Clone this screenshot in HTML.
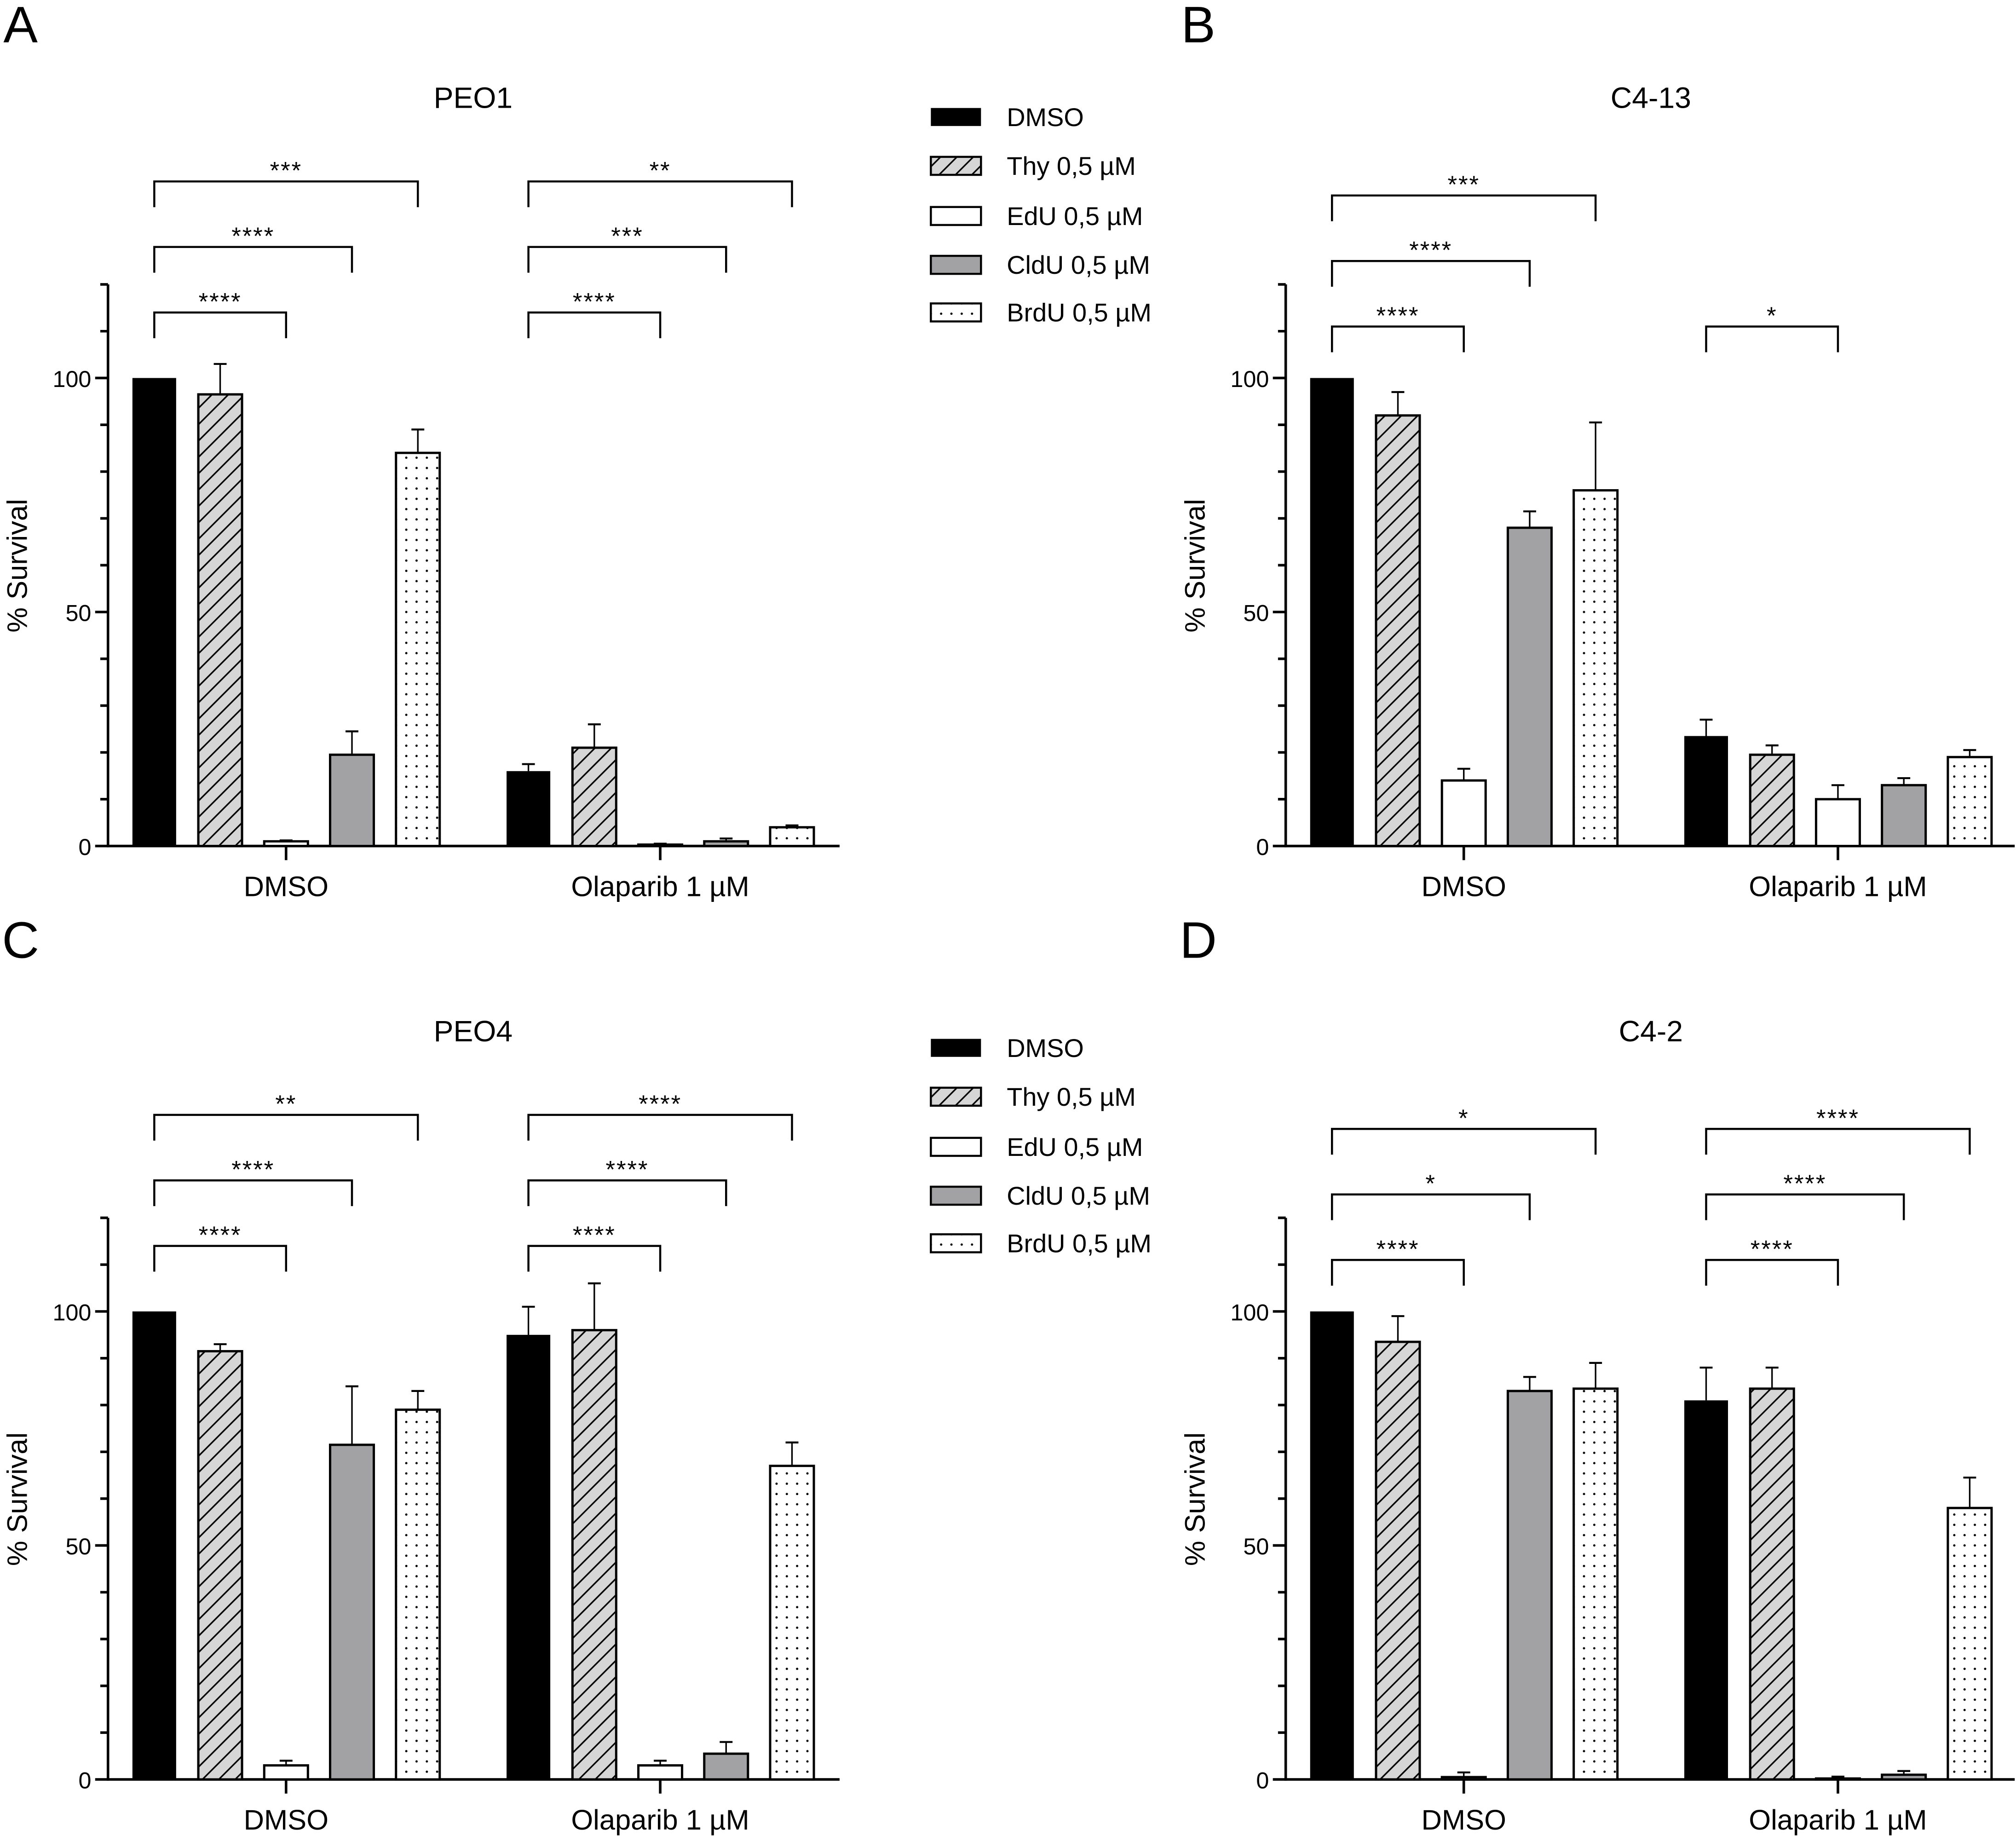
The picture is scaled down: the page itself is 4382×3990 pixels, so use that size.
<!DOCTYPE html>
<html><head><meta charset="utf-8"><style>
html,body{margin:0;padding:0;background:#fff}
svg{display:block}
text{font-family:"Liberation Sans",Arial,sans-serif;fill:#000}
</style></head><body>
<svg id="fig" width="4382" height="3990" viewBox="0 0 1568 1428" preserveAspectRatio="none" xmlns="http://www.w3.org/2000/svg">
<defs>
<pattern id="hatch" patternUnits="userSpaceOnUse" width="9" height="9" patternTransform="rotate(45)">
<rect width="9" height="9" fill="#d6d6d6"/><line x1="0" y1="0" x2="0" y2="9" stroke="#000" stroke-width="2.4"/></pattern>
<pattern id="dots" patternUnits="userSpaceOnUse" width="8" height="8">
<rect width="8" height="8" fill="#fff"/><circle cx="4" cy="4" r="0.9" fill="#000"/></pattern>
</defs>
<g id="root"></g>
</svg>
<script>
const categories = ["DMSO", "Olaparib 1 µM"];
const seriesNames = ["DMSO", "Thy 0,5 µM", "EdU 0,5 µM", "CldU 0,5 µM", "BrdU 0,5 µM"];
const yTicks = [0, 50, 100];
const panelTitles = ["PEO1", "C4-13", "PEO4", "C4-2"];
const panelLetters = ["A", "B", "C", "D"];
// values[group][series]
const valuesA = [[100, 96.5, 1, 19.5, 84], [16, 21, 0.3, 1, 4]];
const errorsA = [[0, 6.5, 0.2, 5, 5], [1.5, 5, 0.2, 0.6, 0.4]];
const valuesB = [[100, 92, 14, 68, 76], [23.5, 19.5, 10, 13, 19]];
const errorsB = [[0, 5, 2.5, 3.5, 14.5], [3.5, 2, 3, 1.5, 1.5]];
const valuesC = [[100, 91.5, 3, 71.5, 79], [95, 96, 3, 5.5, 67]];
const errorsC = [[0, 1.5, 1, 12.5, 4], [6, 10, 1, 2.5, 5]];
const valuesD = [[100, 93.5, 0.5, 83, 83.5], [81, 83.5, 0.2, 1, 58]];
const errorsD = [[0, 5.5, 1, 3, 5.5], [7, 4.5, 0.4, 0.8, 6.5]];
// brackets: [group, toSeries, level(value), label]
const bracketsA = [[0,2,114,"****"],[0,3,128,"****"],[0,4,142,"***"],[1,2,114,"****"],[1,3,128,"***"],[1,4,142,"**"]];
const bracketsB = [[0,2,111,"****"],[0,3,125,"****"],[0,4,139,"***"],[1,2,111,"*"]];
const bracketsC = [[0,2,114,"****"],[0,3,128,"****"],[0,4,142,"**"],[1,2,114,"****"],[1,3,128,"****"],[1,4,142,"****"]];
const bracketsD = [[0,2,111,"****"],[0,3,125,"*"],[0,4,139,"*"],[1,2,111,"****"],[1,3,125,"****"],[1,4,139,"****"]];

const fills = ["#000", "url(#hatch)", "#fff", "#a2a2a5", "url(#dots)"];
const NS = "http://www.w3.org/2000/svg";
const root = document.getElementById("root");
function mk(tag, attrs, parent, txt){
  const e = document.createElementNS(NS, tag);
  for (const k in attrs) e.setAttribute(k, attrs[k]);
  if (txt !== undefined) e.textContent = txt;
  (parent||root).appendChild(e); return e;
}
function panel(idx, ox, oy, vals, errs, brs, axisEnd){
  const g = mk("g", {transform:`translate(${ox},${oy})`});
  
  
  const y = v => 658 - v * 3.64;
  const x0 = 84;
  const bx = (gi, si) => 103 + gi * 291 + si * 51.25;
  const t = mk("text", {x:16, y:(idx < 2 ? 33 : 19), "font-size":40, "text-anchor":"middle"}, g, panelLetters[idx]);
  
  
  const ti = mk("text", {x:368, y:84, "font-size":23, "text-anchor":"middle"}, g, panelTitles[idx]);
  
  
  const ya = mk("line", {x1:x0, y1:y(120), x2:x0, y2:y(0)+1, stroke:"#000", "stroke-width":2}, g);
  
  
  for (let v = 0; v <= 120; v += 10){
    const major = yTicks.includes(v);
    mk("line", {x1:x0-(major?10:6), y1:y(v), x2:x0, y2:y(v), stroke:"#000", "stroke-width":2}, g);
  }
  yTicks.forEach(v=>{
    const tl = mk("text", {x:x0-13, y:y(v)+7, "font-size":18, "text-anchor":"end"}, g, String(v));
    
    
  });
  const yl = mk("text", {x:0, y:0, "font-size":22, "text-anchor":"middle", transform:`translate(21,440) rotate(-90)`}, g, "% Survival");
  
  
  const xa = mk("line", {x1:x0-1, y1:y(0), x2:axisEnd, y2:y(0), stroke:"#000", "stroke-width":2}, g);
  
  
  categories.forEach((c, gi)=>{
    const cx = bx(gi, 2) + 17;
    mk("line", {x1:cx, y1:y(0), x2:cx, y2:y(0)+11, stroke:"#000", "stroke-width":2}, g);
    const cl = mk("text", {x:cx, y:697, "font-size":22, "text-anchor":"middle"}, g, c);
    
    
    vals[gi].forEach((v, si)=>{
      const xx = bx(gi, si);
      const cxx = xx + 17;
      const top = y(errs[gi][si] + v);
      if (errs[gi][si] > 0){
        mk("line", {x1:cxx, y1:top, x2:cxx, y2:y(v), stroke:"#000", "stroke-width":1.2}, g);
        mk("line", {x1:cxx-5, y1:top, x2:cxx+5, y2:top, stroke:"#000", "stroke-width":1.5}, g);
      }
      const r = mk("rect", {x:xx, y:y(v), width:34, height:Math.max(y(0)-y(v),0.5), fill:fills[si], stroke:"#000", "stroke-width":si==0?0:1.8}, g);
      
      
    });
  });
  brs.forEach(b=>{
    const [gi, si, lvl, lab] = b;
    const xa1 = bx(gi, 0) + 17, xa2 = bx(gi, si) + 17, yy = y(lvl);
    const p = mk("path", {d:`M${xa1},${yy+20} V${yy} H${xa2} V${yy+20}`, fill:"none", stroke:"#000", "stroke-width":1.6}, g);
    
    
    const st = mk("text", {x:(xa1+xa2)/2, y:yy-2, "font-size":19, "text-anchor":"middle", "letter-spacing":"1"}, g, lab);
    
    
  });
}
function legend(oy){
  const g = mk("g", {transform:`translate(0,${oy})`});
  
  
  const ys = [91, 129, 168, 206, 243];
  seriesNames.forEach((n, i)=>{
    const r = mk("rect", {x:724, y:ys[i]-7, width:39, height:14, fill:fills[i], stroke:"#000", "stroke-width":i==0?0:1.6}, g);
    
    
    const t = mk("text", {x:783, y:ys[i]+7, "font-size":20}, g, n);
    
    
  });
}
panel(0, 0, 0, valuesA, errorsA, bracketsA, 653);
panel(1, 916, 0, valuesB, errorsB, bracketsB, 651);
panel(2, 0, 726, valuesC, errorsC, bracketsC, 653);
panel(3, 916, 726, valuesD, errorsD, bracketsD, 651);
legend(0);
legend(724);
</script>
</body></html>
